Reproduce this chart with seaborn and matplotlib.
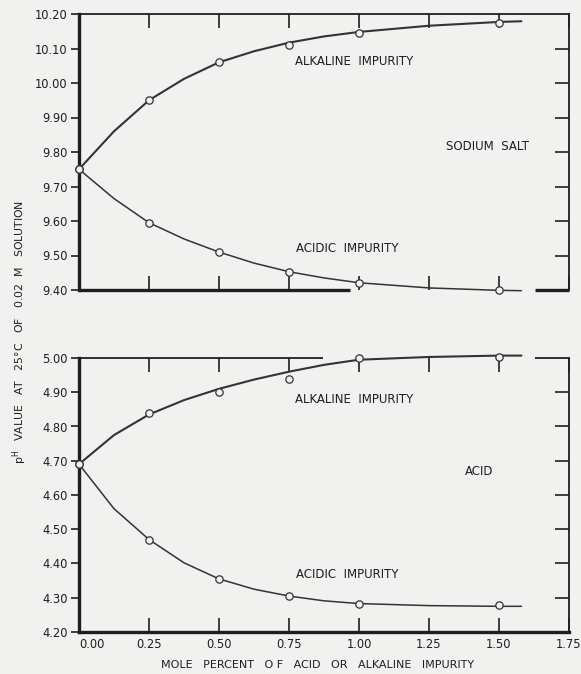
import numpy as np
import pandas as pd
import matplotlib
matplotlib.use("Agg")
import matplotlib.pyplot as plt
import seaborn as sns

# ---- measured points ----
x_pts = [0.00, 0.25, 0.50, 0.75, 1.00, 1.50]
salt_alk = [9.75, 9.95, 10.06, 10.11, 10.145, 10.175]
salt_acid = [9.75, 9.595, 9.51, 9.452, 9.42, 9.40]
acid_alk = [4.69, 4.84, 4.90, 4.94, 5.00, 5.003]
acid_acid = [4.69, 4.47, 4.355, 4.305, 4.283, 4.28]

# ---- smooth drawn curves ----
x_curve = [0.00, 0.125, 0.25, 0.375, 0.50, 0.625, 0.75, 0.875, 1.00, 1.25, 1.50, 1.58]
salt_alk_curve = [9.75, 9.86, 9.95, 10.012, 10.06, 10.092, 10.117, 10.135, 10.148, 10.166, 10.177, 10.179]
salt_acid_curve = [9.75, 9.665, 9.595, 9.548, 9.51, 9.478, 9.453, 9.435, 9.421, 9.406, 9.399, 9.398]
acid_alk_curve = [4.69, 4.775, 4.835, 4.877, 4.91, 4.937, 4.960, 4.980, 4.995, 5.003, 5.007, 5.007]
acid_acid_curve = [4.69, 4.56, 4.47, 4.402, 4.355, 4.325, 4.305, 4.291, 4.283, 4.277, 4.275, 4.275]

x_ticks = [0.00, 0.25, 0.50, 0.75, 1.00, 1.25, 1.50, 1.75]
x_ticklabels = ["0.00", "0.25", "0.50", "0.75", "1.00", "1.25", "1.50", "1.75"]
salt_yticks = [9.40, 9.50, 9.60, 9.70, 9.80, 9.90, 10.00, 10.10, 10.20]
acid_yticks = [4.20, 4.30, 4.40, 4.50, 4.60, 4.70, 4.80, 4.90, 5.00]

BG = "#f1f1ef"
INK = "#1e1e1e"
LINE = "#333333"

sns.set_theme(style="ticks")
plt.rcParams["font.family"] = ["DejaVu Sans"]
plt.rcParams["figure.facecolor"] = BG
plt.rcParams["axes.facecolor"] = BG

fig = plt.figure(figsize=(5.81, 6.74), dpi=100)
W, H = 581, 674
L, R = 79, 569
ax_top = fig.add_axes([L / W, 1 - 290 / H, (R - L) / W, (290 - 14) / H])
ax_bot = fig.add_axes([L / W, 1 - 632 / H, (R - L) / W, (632 - 358) / H])


def draw(ax, curve_a, curve_b, pts_a, pts_b, yticks, ylim, gap_side, gap_end):
    dfc_a = pd.DataFrame({"x": x_curve, "y": curve_a})
    dfc_b = pd.DataFrame({"x": x_curve, "y": curve_b})
    dfp = pd.DataFrame({
        "x": x_pts * 2,
        "y": pts_a + pts_b,
    })
    sns.lineplot(data=dfc_a, x="x", y="y", estimator=None, sort=False,
                 color=LINE, lw=1.5, ax=ax, legend=False)
    sns.lineplot(data=dfc_b, x="x", y="y", estimator=None, sort=False,
                 color=LINE, lw=1.1, ax=ax, legend=False)
    for ln in ax.get_lines():
        ln.set_clip_on(False)
    sns.scatterplot(data=dfp, x="x", y="y", marker="o", s=28, facecolor=BG,
                    edgecolor=LINE, linewidth=0.9, ax=ax, legend=False,
                    zorder=6, clip_on=False)
    ax.set_xlim(0, 1.75)
    ax.set_ylim(*ylim)
    ax.set_yticks(yticks)
    ax.set_yticklabels([f"{v:.2f}" for v in yticks], fontsize=8.3, color=INK)
    ax.set_xticks(x_ticks)
    ax.set_xlabel("")
    ax.set_ylabel("")
    for s in ["left", "bottom"]:
        ax.spines[s].set_linewidth(2.4)
        ax.spines[s].set_color(INK)
    for s in ["top", "right"]:
        ax.spines[s].set_linewidth(1.3)
        ax.spines[s].set_color(INK)
        ax.spines[s].set_visible(True)
    ax.tick_params(axis="y", which="both", left=True, right=False,
                   direction="out", length=6, width=1.2, color=INK, pad=2)
    ax.tick_params(axis="x", which="both", top=True, bottom=True,
                   direction="in", length=10, width=1.2, color=INK)
    # right-hand inward ticks
    axr = ax.twinx()
    axr.set_ylim(*ylim)
    axr.set_yticks(yticks[1:-1])
    axr.set_yticklabels([])
    axr.tick_params(axis="y", right=True, left=False, direction="in",
                    length=10, width=1.2, color=INK)
    for s in axr.spines.values():
        s.set_visible(False)
    axr.grid(False)
    # broken spine (scan artefact)
    ax.spines[gap_side].set_visible(False)
    yy = 0 if gap_side == "bottom" else 1
    lw = 2.4 if gap_side == "bottom" else 1.3
    ax.plot([0, gap_end], [yy, yy], transform=ax.transAxes, color=INK,
            lw=lw, clip_on=False, solid_capstyle="butt", zorder=4)
    ax.plot([1.629 / 1.75, 1.0], [yy, yy], transform=ax.transAxes, color=INK,
            lw=lw, clip_on=False, solid_capstyle="butt", zorder=4)


draw(ax_top, salt_alk_curve, salt_acid_curve, salt_alk, salt_acid,
     salt_yticks, (9.40, 10.20), "bottom", 0.968 / 1.75)
draw(ax_bot, acid_alk_curve, acid_acid_curve, acid_alk, acid_acid,
     acid_yticks, (4.20, 5.00), "top", 0.871 / 1.75)

ax_top.set_xticklabels([])
ax_bot.set_xticklabels(x_ticklabels, fontsize=8.3, color=INK)
ax_bot.tick_params(axis="x", pad=4)
ax_bot.get_xticklabels()[0].set_horizontalalignment("left")

tkw = dict(fontsize=8.5, color=INK, va="center", ha="left")
ax_top.text(0.77, 10.063, "ALKALINE  IMPURITY", **tkw)
ax_top.text(1.31, 9.816, "SODIUM  SALT", **tkw)
ax_top.text(0.775, 9.52, "ACIDIC  IMPURITY", **tkw)
ax_bot.text(0.77, 4.88, "ALKALINE  IMPURITY", **tkw)
ax_bot.text(1.38, 4.67, "ACID", **tkw)
ax_bot.text(0.775, 4.367, "ACIDIC  IMPURITY", **tkw)

fig.text(318 / W, 1 - 665 / H,
         "MOLE   PERCENT   O F   ACID   OR   ALKALINE   IMPURITY",
         fontsize=8, color=INK, ha="center", va="center")
fig.text(20 / W, 1 - 332 / H,
         "p$^{\\mathregular{H}}$   VALUE   AT   25°C   OF   0.02  M   SOLUTION",
         fontsize=7.8, color=INK, ha="center", va="center", rotation=90)

fig.savefig("out.png", dpi=100, facecolor=BG)
